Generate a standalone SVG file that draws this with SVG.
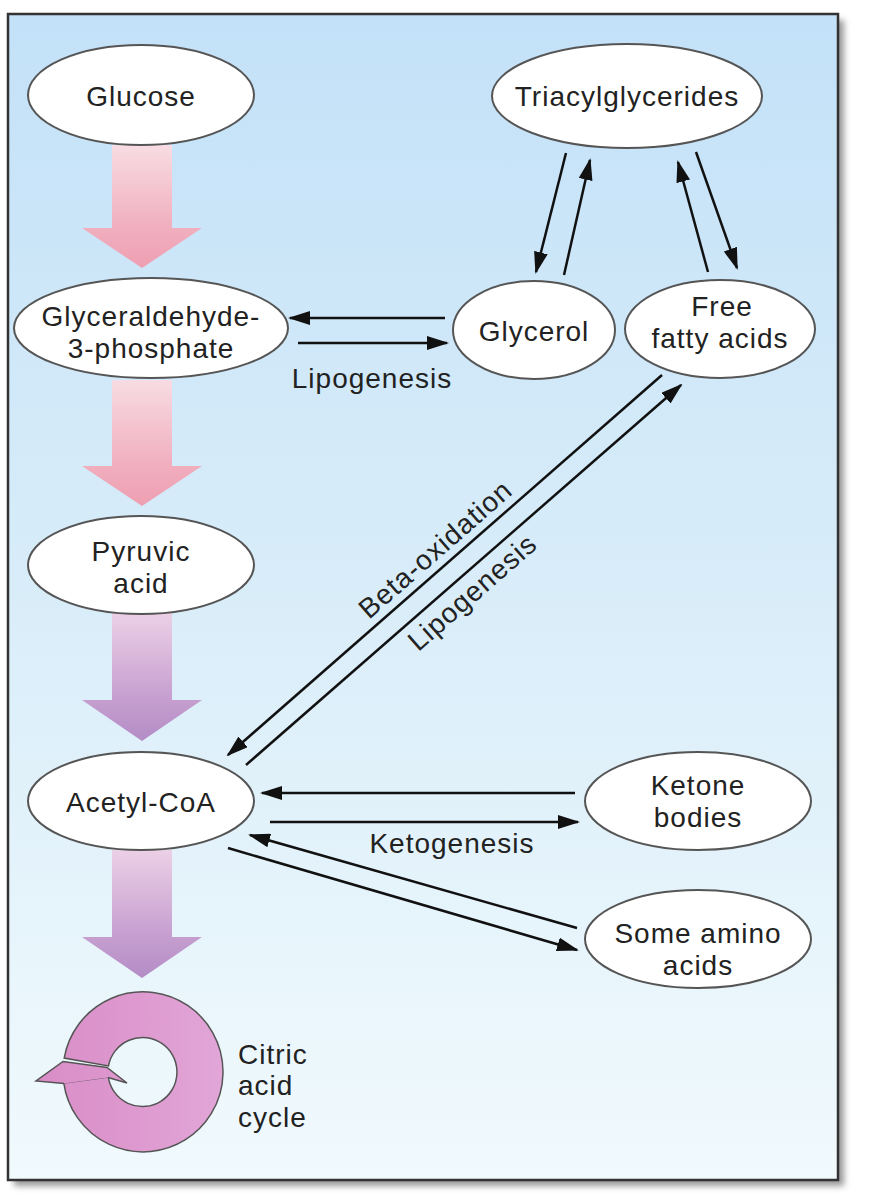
<svg xmlns="http://www.w3.org/2000/svg" width="870" height="1200" viewBox="0 0 870 1200">
<defs>
<linearGradient id="bg" x1="0" y1="0" x2="0" y2="1">
<stop offset="0" stop-color="#c3e1f8"/>
<stop offset="0.5" stop-color="#d9edf9"/>
<stop offset="1" stop-color="#f1fafd"/>
</linearGradient>
<linearGradient id="pink" x1="0" y1="0" x2="0" y2="1">
<stop offset="0" stop-color="#f8dce3"/>
<stop offset="0.65" stop-color="#f1b0bf"/>
<stop offset="1" stop-color="#ee9fb2"/>
</linearGradient>
<linearGradient id="purple" x1="0" y1="0" x2="0" y2="1">
<stop offset="0" stop-color="#ecd0e6"/>
<stop offset="0.65" stop-color="#c7a0d0"/>
<stop offset="1" stop-color="#b48cc6"/>
</linearGradient>
<linearGradient id="ring" gradientUnits="userSpaceOnUse" x1="35" y1="0" x2="225" y2="0">
<stop offset="0" stop-color="#d98cc6"/>
<stop offset="1" stop-color="#e2a6d8"/>
</linearGradient>
<filter id="sh" x="-5%" y="-5%" width="110%" height="110%"><feGaussianBlur stdDeviation="3"/></filter>
<marker id="ah" markerUnits="userSpaceOnUse" markerWidth="22" markerHeight="14" refX="20" refY="7" orient="auto">
<path d="M0,0 L22,7 L0,14 z" fill="#111"/>
</marker>
</defs>
<style>
.node{fill:#fff;stroke:#555;stroke-width:2}
.t{font-family:"Liberation Sans",Arial,sans-serif;font-size:28px;letter-spacing:1px;fill:#222;text-anchor:middle}
.tl{font-family:"Liberation Sans",Arial,sans-serif;font-size:28px;letter-spacing:1px;fill:#222}
.c{stroke:#111;stroke-width:2.5;fill:none;marker-end:url(#ah)}
.ring{fill:url(#ring);stroke:#555;stroke-width:1.5}
</style>
<rect x="14" y="20" width="830" height="1166" fill="#999" filter="url(#sh)"/>
<rect x="8" y="14" width="830" height="1166" fill="url(#bg)" stroke="#333" stroke-width="2.5"/>
<g id="flow-arrows">
<path d="M112,145 H172 V228 H202 L142,268 L82,228 H112 Z" fill="url(#pink)"/>
<path d="M112,380 H172 V466 H202 L142,506 L82,466 H112 Z" fill="url(#pink)"/>
<path d="M112,613 H172 V700 H202 L142,741 L82,700 H112 Z" fill="url(#purple)"/>
<path d="M112,850 H172 V937 H202 L142,978 L82,937 H112 Z" fill="url(#purple)"/>
</g>
<g id="connectors">
<line class="c" x1="445" y1="318" x2="290" y2="318"/>
<line class="c" x1="298" y1="343" x2="447" y2="343"/>
<line class="c" x1="566" y1="153" x2="536" y2="272"/>
<line class="c" x1="564" y1="275" x2="590" y2="160"/>
<line class="c" x1="708" y1="272" x2="678" y2="162"/>
<line class="c" x1="696" y1="152" x2="737" y2="268"/>
<line class="c" x1="662" y1="375" x2="228" y2="755"/>
<line class="c" x1="246" y1="765" x2="681" y2="385"/>
<line class="c" x1="575" y1="793" x2="262" y2="793"/>
<line class="c" x1="270" y1="822" x2="578" y2="822"/>
<line class="c" x1="577" y1="928" x2="250" y2="835"/>
<line class="c" x1="228" y1="848" x2="577" y2="950"/>
<text class="t" x="372" y="388">Lipogenesis</text>
<text class="t" transform="translate(441.6,556.5) rotate(-41.2)">Beta-oxidation</text>
<text class="t" transform="translate(478.6,599.5) rotate(-41.2)">Lipogenesis</text>
<text class="t" x="452" y="853">Ketogenesis</text>
</g>
<g id="glucose"><ellipse class="node" cx="141" cy="95" rx="113" ry="50"/><text class="t" x="141" y="106">Glucose</text></g>
<g id="triacylglycerides"><ellipse class="node" cx="627" cy="96" rx="135" ry="52"/><text class="t" x="627" y="106">Triacylglycerides</text></g>
<g id="g3p"><ellipse class="node" cx="151" cy="328" rx="137" ry="50"/><text class="t"><tspan x="151" y="326">Glyceraldehyde-</tspan><tspan x="151" y="357.5">3-phosphate</tspan></text></g>
<g id="glycerol"><ellipse class="node" cx="534" cy="330" rx="81" ry="49"/><text class="t" x="534" y="341">Glycerol</text></g>
<g id="ffa"><ellipse class="node" cx="720" cy="329" rx="95" ry="49"/><text class="t"><tspan x="722" y="316">Free</tspan><tspan x="720" y="347.5">fatty acids</tspan></text></g>
<g id="pyruvic"><ellipse class="node" cx="141" cy="565" rx="113" ry="49"/><text class="t"><tspan x="141" y="561">Pyruvic</tspan><tspan x="141" y="592.5">acid</tspan></text></g>
<g id="acetylcoa"><ellipse class="node" cx="141" cy="801" rx="113" ry="49"/><text class="t" x="141" y="812">Acetyl-CoA</text></g>
<g id="ketone"><ellipse class="node" cx="698" cy="801" rx="113" ry="49"/><text class="t"><tspan x="698" y="795">Ketone</tspan><tspan x="698" y="826.5">bodies</tspan></text></g>
<g id="amino"><ellipse class="node" cx="698" cy="939" rx="113" ry="49"/><text class="t"><tspan x="698" y="943">Some amino</tspan><tspan x="698" y="974.5">acids</tspan></text></g>
<g id="citric">
<path class="ring" d="M64.2,1058.1 A80,80 0 1 1 63.8,1083.1 L108.3,1076.9 A34.5,34.5 0 1 0 108.5,1065.9 Z"/>
<path class="ring" d="M64,1083.5 L36,1081 L63,1061.5 L107,1067.5 L127,1083 L108,1077.5"/>
<text class="tl"><tspan x="238" y="1063.5">Citric</tspan><tspan x="238" y="1095">acid</tspan><tspan x="238" y="1126.5">cycle</tspan></text>
</g>
</svg>
